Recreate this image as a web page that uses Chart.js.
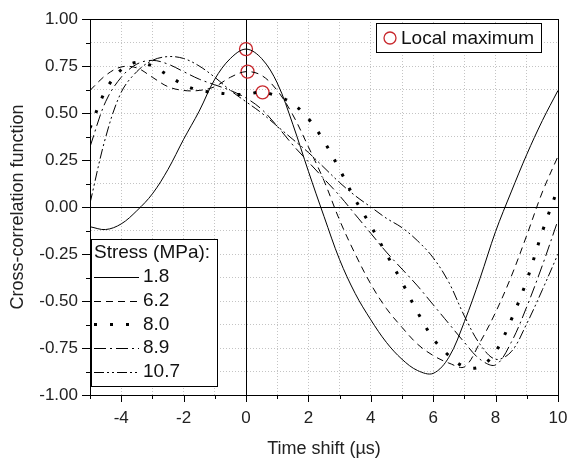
<!DOCTYPE html>
<html><head><meta charset="utf-8">
<script src="https://cdn.jsdelivr.net/npm/chart.js@4/dist/chart.umd.min.js"></script>
<style>html,body{margin:0;padding:0;background:#fff;}</style>
</head><body>
<canvas id="c" width="567" height="461"></canvas>
<script>
// ---- data ----
const timeShift = [-5,-4.5,-4,-3.5,-3,-2.5,-2,-1.5,-1,-0.5,0,0.5,1,1.5,2,2.5,3,3.5,4,4.5,5,5.5,6,6.5,7,7.5,8,8.5,9,9.5,10];
const stressLabels = ['1.8','6.2','8.0','8.9','10.7'];
const corr18  = [-0.105,-0.12,-0.09,-0.02,0.07,0.20,0.36,0.51,0.68,0.79,0.84,0.79,0.66,0.44,0.19,-0.05,-0.28,-0.46,-0.60,-0.72,-0.81,-0.87,-0.885,-0.80,-0.61,-0.38,-0.13,0.08,0.28,0.46,0.62];
const corr62  = [0.62,0.70,0.745,0.74,0.69,0.64,0.62,0.62,0.64,0.69,0.72,0.70,0.62,0.49,0.32,0.14,-0.07,-0.25,-0.41,-0.54,-0.64,-0.73,-0.79,-0.83,-0.85,-0.72,-0.56,-0.37,-0.15,0.08,0.27];
const corr80  = [0.42,0.62,0.73,0.77,0.75,0.70,0.65,0.62,0.61,0.60,0.60,0.61,0.59,0.55,0.47,0.35,0.20,0.04,-0.10,-0.25,-0.40,-0.56,-0.70,-0.79,-0.85,-0.85,-0.77,-0.60,-0.39,-0.13,0.10];
const corr89  = [0.32,0.56,0.69,0.76,0.78,0.76,0.72,0.68,0.65,0.62,0.58,0.52,0.43,0.33,0.24,0.15,0.06,-0.04,-0.14,-0.24,-0.33,-0.42,-0.52,-0.62,-0.72,-0.81,-0.84,-0.72,-0.53,-0.31,-0.07];
const corr107 = [0.02,0.37,0.61,0.72,0.78,0.80,0.79,0.75,0.69,0.62,0.56,0.50,0.43,0.36,0.29,0.21,0.13,0.06,0.00,-0.06,-0.11,-0.18,-0.27,-0.40,-0.58,-0.73,-0.81,-0.77,-0.62,-0.44,-0.25];
const localMaxX = [0, 0.05, 0.53];
const localMaxY = [0.84, 0.72, 0.61];
const xTickLabels = [-4,-2,0,2,4,6,8,10];
const yTickLabels = [-1,-0.75,-0.5,-0.25,0,0.25,0.5,0.75,1];

// ---- styles ----
const seriesValues = [corr18, corr62, corr80, corr89, corr107];
const seriesStyle = [
  {dash: [], width: 1},
  {dash: [7,5], width: 1},
  {dash: [3,13], width: 3},
  {dash: [12,4,2,4], width: 1},
  {dash: [10,3,2,3,2,3], width: 1}
];
const FONT = '"Liberation Sans", Arial, sans-serif';

const datasets = seriesValues.map((vals, i) => ({
  label: stressLabels[i],
  data: timeShift.map((t, k) => ({x: t, y: vals[k]})),
  borderColor: '#000',
  borderWidth: seriesStyle[i].width,
  borderDash: seriesStyle[i].dash,
  borderCapStyle: 'butt',
  pointRadius: 0,
  tension: 0.35,
  fill: false
}));
datasets.push({
  label: 'Local maximum',
  type: 'scatter',
  data: localMaxX.map((x, i) => ({x, y: localMaxY[i]})),
  showLine: false,
  pointStyle: 'circle',
  pointRadius: 6.5,
  pointBorderColor: '#c8282d',
  pointBackgroundColor: 'rgba(0,0,0,0)',
  pointBorderWidth: 1.3
});

const isMajorY = v => Math.abs(v / 0.25 - Math.round(v / 0.25)) < 1e-6;
const isMajorX = v => Math.abs(v / 2 - Math.round(v / 2)) < 1e-6;

const decor = {
  id: 'decor',
  beforeDatasetsDraw(chart) {
    const {ctx, chartArea: a, scales: {x, y}} = chart;
    ctx.save();
    ctx.strokeStyle = '#000'; ctx.lineWidth = 1;
    const px = Math.round(x.getPixelForValue(0)) + 0.5;
    const py = Math.round(y.getPixelForValue(0)) + 0.5;
    ctx.beginPath();
    ctx.moveTo(px, a.top); ctx.lineTo(px, a.bottom);
    ctx.moveTo(a.left, py); ctx.lineTo(a.right, py);
    ctx.stroke();
    ctx.restore();
  },
  afterDraw(chart) {
    const {ctx, chartArea: a, scales: {x, y}} = chart;
    ctx.save();
    ctx.strokeStyle = '#000'; ctx.lineWidth = 1;
    ctx.strokeRect(Math.round(a.left) + 0.5, Math.round(a.top) + 0.5, Math.round(a.right - a.left), Math.round(a.bottom - a.top));
    ctx.beginPath();
    x.ticks.forEach(t => {
      const p = Math.round(x.getPixelForValue(t.value)) + 0.5;
      const len = isMajorX(t.value) ? 7 : 4;
      ctx.moveTo(p, a.bottom); ctx.lineTo(p, a.bottom + len);
    });
    y.ticks.forEach(t => {
      const p = Math.round(y.getPixelForValue(t.value)) + 0.5;
      const len = isMajorY(t.value) ? 8 : 4;
      ctx.moveTo(a.left - len, p); ctx.lineTo(a.left, p);
    });
    ctx.stroke();

    const ds = chart.data.datasets;
    ctx.fillStyle = '#fff';
    ctx.fillRect(91.5, 239.5, 126, 147);
    ctx.strokeRect(91.5, 239.5, 126, 147);
    ctx.fillStyle = '#111';
    ctx.font = '19px ' + FONT;
    ctx.textBaseline = 'middle';
    ctx.textAlign = 'left';
    ctx.fillText('Stress (MPa):', 94, 253);
    for (let i = 0; i < 5; i++) {
      const yy = 277 + i * 23.7;
      ctx.save();
      ctx.setLineDash(ds[i].borderDash);
      ctx.lineWidth = ds[i].borderWidth;
      ctx.lineCap = 'butt';
      ctx.beginPath();
      ctx.moveTo(94, Math.round(yy) + 0.5); ctx.lineTo(139, Math.round(yy) + 0.5);
      ctx.stroke();
      ctx.restore();
      ctx.fillText(ds[i].label, 143, yy);
    }
    ctx.fillStyle = '#fff';
    ctx.fillRect(376.5, 23.5, 165, 29);
    ctx.strokeRect(376.5, 23.5, 165, 29);
    const m = ds[5];
    ctx.strokeStyle = m.pointBorderColor; ctx.lineWidth = m.pointBorderWidth;
    ctx.beginPath(); ctx.arc(390, 38, 6, 0, Math.PI * 2); ctx.stroke();
    ctx.fillStyle = '#111';
    ctx.fillText(m.label, 401, 38.5);
    ctx.restore();
  }
};

new Chart(document.getElementById('c'), {
  type: 'line',
  data: {datasets},
  options: {
    responsive: false,
    devicePixelRatio: 1,
    animation: false,
    layout: {padding: {left: 0, top: 19, right: 9, bottom: 0}},
    plugins: {legend: {display: false}, tooltip: {enabled: false}},
    scales: {
      x: {
        type: 'linear', min: -5, max: 10,
        afterFit(s) { s.height = 66; s.paddingLeft = 0; s.paddingRight = 0; },
        ticks: {
          stepSize: 1, autoSkip: false, maxRotation: 0, padding: 13,
          color: '#222', font: {family: FONT, size: 17},
          callback: v => xTickLabels.includes(v) ? String(v) : ''
        },
        grid: {color: '#c4c4c4', lineWidth: 1, drawTicks: false},
        border: {display: true, color: '#000', dash: [1, 2]},
        title: {display: true, text: 'Time shift (\u00b5s)', color: '#222', font: {family: FONT, size: 18}, padding: {top: 0, bottom: 1}}
      },
      y: {
        type: 'linear', min: -1, max: 1,
        afterFit(s) { s.width = 90; s.paddingTop = 0; s.paddingBottom = 0; },
        ticks: {
          stepSize: 0.125, autoSkip: false, padding: 12,
          color: '#222', font: {family: FONT, size: 17},
          callback: v => yTickLabels.some(l => Math.abs(l - v) < 1e-6) ? v.toFixed(2) : ''
        },
        grid: {color: '#c4c4c4', lineWidth: 1, drawTicks: false},
        border: {display: true, color: '#000', dash: [1, 2]},
        title: {display: true, text: 'Cross-correlation function', color: '#222', font: {family: FONT, size: 18}, padding: {top: 7, bottom: 0}}
      }
    }
  },
  plugins: [decor]
});
</script>
</body></html>
